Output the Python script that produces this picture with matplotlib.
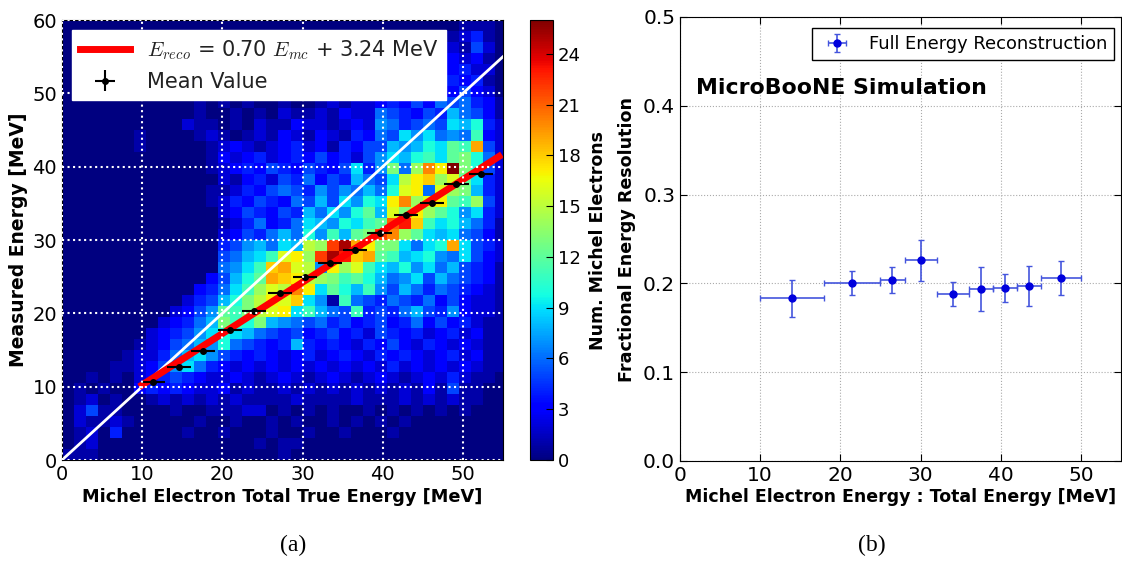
import matplotlib
matplotlib.use("Agg")
import matplotlib.pyplot as plt
import numpy as np

plt.rcParams["mathtext.fontset"] = "cm"

# ---- panel (a): 2D histogram, 1.5 MeV bins ----
bin_width = 1.5
x_edges = np.arange(0, 57, bin_width)   # 0 .. 55.5 (last column clipped at 55)
y_edges = np.arange(0, 61, bin_width)   # 0 .. 60

# counts per bin, rows listed from top (58.5-60 MeV) down to bottom (0-1.5 MeV)
counts_rows = [
    [0,0,0,0,0,0,0,0,0,0, 0,0,0,0,0,0,0,0,0,0, 0,0,0,0,0,0,0,0,0,0, 0,0,0,1,1,1,0],
    [0,0,0,0,0,0,0,0,0,0, 0,0,0,0,0,0,0,0,0,0, 0,0,0,0,0,0,0,0,0,0, 0,0,1,2,4,1,0],
    [0,0,0,0,0,0,0,0,0,0, 0,0,0,0,0,0,0,0,0,0, 0,0,0,0,0,0,0,0,0,0, 0,1,2,1,5,2,0],
    [0,0,0,0,0,0,0,0,0,0, 0,0,0,0,0,0,0,0,0,0, 0,0,0,0,0,0,0,0,0,0, 1,2,3,2,3,1,0],
    [0,0,0,0,0,0,0,0,0,0, 0,0,0,0,0,0,0,0,0,0, 0,0,0,0,0,0,0,0,0,1, 2,4,3,4,2,2,0],
    [0,0,0,0,0,0,0,0,0,0, 0,0,0,0,0,0,0,0,0,0, 0,0,0,0,0,0,0,0,1,2, 3,5,4,3,4,1,0],
    [0,0,0,0,0,0,0,0,0,0, 1,0,1,0,1,1,0,1,0,1, 0,1,0,0,1,1,2,1,2,3, 5,4,3,5,3,2,0],
    [0,0,0,0,0,0,0,0,0,0, 0,1,0,1,0,1,0,0,1,0, 0,1,2,1,2,2,3,4,3,5, 3,6,5,6,4,3,1],
    [0,0,0,0,0,0,0,0,0,0, 0,1,0,0,1,0,1,0,2,1, 1,2,1,3,2,2,6,5,4,3, 5,4,8,6,5,3,1],
    [0,0,0,0,0,0,0,0,0,0, 2,1,1,0,1,0,2,1,1,3, 2,2,1,2,3,2,7,6,4,5, 6,5,9,8,10,4,2],
    [0,0,0,0,0,0,1,0,0,0, 0,1,2,1,0,1,2,1,3,2, 1,3,2,1,4,3,6,5,9,7, 9,6,7,6,11,3,2],
    [0,0,0,0,0,0,1,0,0,0, 0,0,1,2,3,2,1,2,3,4, 2,3,1,4,3,5,5,8,7,8, 10,9,12,11,19,5,2],
    [0,0,0,0,0,0,0,0,0,0, 0,0,1,3,2,3,4,2,3,4, 3,5,3,4,2,5,7,9,8,10, 11,9,12,13,10,6,2],
    [0,0,0,0,0,0,0,0,0,0, 0,0,1,2,3,4,3,5,4,3, 5,4,3,5,9,4,7,13,6,14, 20,17,26,13,10,5,2],
    [0,0,0,0,0,0,0,0,0,0, 0,0,0,2,1,3,4,2,5,4, 6,3,5,4,8,6,5,9,15,17, 18,14,16,12,9,4,2],
    [0,0,0,0,0,0,0,0,0,0, 0,0,1,1,2,4,3,5,6,5, 4,7,5,7,6,8,6,10,16,17, 6,16,14,13,8,4,2],
    [0,0,0,0,0,0,0,0,0,0, 0,0,1,2,4,3,5,4,3,6, 5,8,5,9,7,10,9,17,20,14, 16,17,12,11,14,5,2],
    [0,0,0,0,0,0,0,0,0,0, 0,0,0,2,3,5,4,3,5,4, 8,6,9,7,10,12,8,16,13,17, 14,12,10,7,9,4,2],
    [0,0,0,0,0,0,0,0,0,0, 0,0,0,1,2,4,6,3,4,6, 9,8,7,10,9,11,12,21,23,18, 11,9,10,8,6,4,1],
    [0,0,0,0,0,0,0,0,0,0, 0,0,0,2,3,5,4,6,8,6, 10,7,11,8,12,13,22,20,14,12, 9,8,9,6,5,3,1],
    [0,0,0,0,0,0,0,0,0,0, 0,0,0,4,5,7,8,6,9,8, 15,14,22,25,19,17,13,13,9,6, 9,10,19,9,5,4,2],
    [0,0,0,0,0,0,0,0,0,0, 0,0,0,5,6,8,9,11,16,17, 14,22,25,23,18,19,12,11,8,9, 10,7,6,9,5,3,2],
    [0,0,0,0,0,0,0,0,0,0, 0,0,0,6,7,9,11,18,19,16, 15,7,17,14,16,11,9,8,10,7, 9,6,8,5,4,3,1],
    [0,0,0,0,0,0,0,0,0,0, 0,0,3,5,8,10,12,19,18,17, 15,14,13,11,12,10,8,6,7,9, 5,8,6,5,4,3,1],
    [0,0,0,0,0,0,0,0,0,0, 0,3,4,6,9,11,14,16,15,20, 17,9,12,10,8,11,7,5,8,6, 4,6,5,4,3,2,1],
    [0,0,0,0,0,0,0,0,0,0, 2,4,5,8,10,13,15,17,16,18, 9,7,1,11,6,5,4,6,5,4, 6,3,5,3,2,2,1],
    [0,0,0,0,0,0,0,0,0,2, 3,5,7,12,11,13,15,16,17,9, 11,8,6,5,11,4,5,4,6,8, 5,4,7,3,2,2,1],
    [0,0,0,0,0,0,0,0,2,3, 4,6,8,13,11,10,13,8,7,6, 5,6,4,5,3,4,5,3,4,6, 3,5,3,4,2,1,1],
    [0,0,0,0,0,0,0,2,3,4, 5,7,9,10,9,8,6,5,4,5, 3,4,5,3,4,2,5,4,3,4, 2,3,4,2,3,1,1],
    [0,0,0,0,0,0,1,2,3,5, 6,8,7,10,6,5,4,3,4,8, 4,3,4,3,2,4,3,5,3,2, 4,3,2,3,2,1,1],
    [0,0,0,0,0,1,2,2,4,6, 8,9,7,5,4,3,4,3,2,3, 4,2,3,4,3,2,4,3,4,3, 2,3,4,2,3,1,1],
    [0,0,0,0,1,1,2,3,5,7, 9,6,4,3,2,3,2,3,2,3, 2,3,2,3,2,3,2,4,2,3, 2,3,2,3,2,1,1],
    [0,0,1,0,1,0,2,3,4,5, 4,3,2,2,3,2,1,2,3,2, 1,2,3,2,1,2,3,2,1,2, 3,2,4,2,1,1,0],
    [0,1,0,1,0,0,3,4,3,4, 3,2,2,3,1,2,1,1,2,1, 2,1,2,1,2,1,2,1,2,1, 3,1,5,1,1,0,0],
    [0,1,2,0,1,0,0,1,2,1, 2,1,2,1,2,1,1,1,1,2, 1,1,1,1,2,1,1,1,2,1, 2,1,2,1,1,0,0],
    [0,2,5,1,1,0,0,0,0,1, 0,0,1,1,1,2,2,0,1,0, 1,0,1,0,0,1,0,1,0,1, 0,1,0,1,0,0,0],
    [0,2,1,1,2,1,0,0,0,0, 0,1,0,0,1,0,0,1,0,1, 0,0,1,0,1,0,1,0,1,0, 0,0,0,0,0,0,0],
    [0,1,2,0,4,0,0,0,0,0, 1,0,0,1,0,0,0,1,0,0, 1,0,0,1,0,0,0,1,0,0, 0,0,0,0,0,0,0],
    [0,1,2,0,0,0,0,0,0,0, 0,0,0,0,0,0,1,0,1,1, 0,0,0,0,0,0,0,0,0,0, 0,0,0,0,0,0,0],
    [1,1,1,0,0,0,0,0,0,0, 0,0,0,0,0,0,0,0,1,0, 0,0,0,0,0,0,0,0,0,0, 0,0,0,0,0,0,0],
]
counts = np.array(counts_rows[::-1])

# mean measured energy per true-energy slice
mean_x = [11.3, 14.6, 17.6, 20.9, 23.9, 27.2, 30.3, 33.4, 36.6, 39.6, 42.9, 46.1, 49.2, 52.3]
mean_y = [10.6, 12.7, 14.9, 17.7, 20.3, 22.8, 24.9, 26.9, 28.7, 30.9, 33.4, 35.0, 37.6, 39.0]
mean_xerr = 1.5
mean_yerr = 0.3

# linear fit
fit_slope = 0.70
fit_offset = 3.24
fit_x = np.array([10.0, 54.5])

# ---- panel (b): fractional resolution ----
res_x = [14.0, 21.5, 26.5, 30.0, 34.0, 37.5, 40.5, 43.5, 47.5]
res_xlo = [10, 18, 25, 28, 32, 36, 39, 42, 45]
res_xhi = [18, 25, 28, 32, 36, 39, 42, 45, 50]
res_y = [0.183, 0.201, 0.204, 0.226, 0.188, 0.194, 0.195, 0.197, 0.206]
res_yerr = [0.0205, 0.0135, 0.0145, 0.023, 0.0135, 0.025, 0.016, 0.023, 0.019]

W, H = 1122, 561
fig = plt.figure(figsize=(W / 100, H / 100), dpi=100)

# left panel
ax1 = fig.add_axes([62 / W, 1 - 460 / H, 441 / W, 440 / H])
mesh = ax1.pcolormesh(x_edges, y_edges, counts, cmap="jet", vmin=0, vmax=26)
ax1.plot([0, 55], [0, 55], color="white", lw=2)
ax1.plot(fit_x, fit_slope * fit_x + fit_offset, color="red", lw=5,
         label=r"$E_{reco}$ = 0.70 $E_{mc}$ + 3.24 MeV")
ax1.errorbar(mean_x, mean_y, xerr=mean_xerr, yerr=mean_yerr, fmt="o", color="black",
             ms=4, lw=1.5, capsize=0, label="Mean Value")
ax1.set_xlim(0, 55)
ax1.set_ylim(0, 60)
ax1.set_xticks(range(0, 51, 10))
ax1.set_yticks(range(0, 61, 10))
ax1.grid(color="white", linestyle=":", lw=1.5)
ax1.set_axisbelow(False)
ax1.tick_params(labelsize=14, direction="in", length=0)
ax1.set_xlabel("Michel Electron Total True Energy [MeV]", fontsize=12.8, fontweight="bold", labelpad=3)
ax1.set_ylabel("Measured Energy [MeV]", fontsize=13.5, fontweight="bold", labelpad=3)
leg1 = ax1.legend(loc="upper left", bbox_to_anchor=(0.022, 0.978), fontsize=15,
                  fancybox=False, framealpha=1, edgecolor="white", handlelength=2.4,
                  borderaxespad=0)
for t in leg1.get_texts():
    t.set_color("#222222")

# colorbar
cax = fig.add_axes([530 / W, 1 - 460 / H, 23 / W, 440 / H])
cb = fig.colorbar(mesh, cax=cax, ticks=range(0, 25, 3))
cb.ax.tick_params(labelsize=13, direction="in", length=5)
cb.set_label("Num. Michel Electrons", fontsize=12.5, fontweight="bold", labelpad=6)

# right panel
ax2 = fig.add_axes([680 / W, 1 - 461 / H, 441 / W, 444 / H])
xerr = [np.array(res_x) - np.array(res_xlo), np.array(res_xhi) - np.array(res_x)]
ax2.errorbar(res_x, res_y, xerr=xerr, yerr=res_yerr, fmt="o", color="#0000dd",
             ecolor="#4455dd", ms=5, lw=1.2, capsize=2.5, label="Full Energy Reconstruction")
ax2.set_xlim(0, 55)
ax2.set_ylim(0, 0.5)
ax2.set_xticks(range(0, 51, 10))
ax2.set_yticks(np.arange(0, 0.51, 0.1))
ax2.set_yticklabels([f"{v:.1f}" for v in np.arange(0, 0.51, 0.1)])
ax2.grid(color="#aaaaaa", linestyle=":", lw=0.8)
ax2.tick_params(labelsize=14.5, direction="in", top=True, right=True, length=5)
ax2.set_xlabel("Michel Electron Energy : Total Energy [MeV]", fontsize=12.5, fontweight="bold", labelpad=2)
ax2.set_ylabel("Fractional Energy Resolution", fontsize=12.6, fontweight="bold", labelpad=5)
ax2.text(2.0, 0.42, "MicroBooNE Simulation", fontsize=15.8, fontweight="bold", va="center")
ax2.legend(loc="upper right", bbox_to_anchor=(0.985, 0.975), fontsize=12.9, numpoints=1,
           fancybox=False, framealpha=1, edgecolor="black", borderaxespad=0)

# captions
fig.text(293 / W, 1 - 545 / H, "(a)", family="Liberation Serif", fontsize=17, ha="center", va="center")
fig.text(872 / W, 1 - 545 / H, "(b)", family="Liberation Serif", fontsize=17, ha="center", va="center")

fig.savefig("out.png", dpi=100)
